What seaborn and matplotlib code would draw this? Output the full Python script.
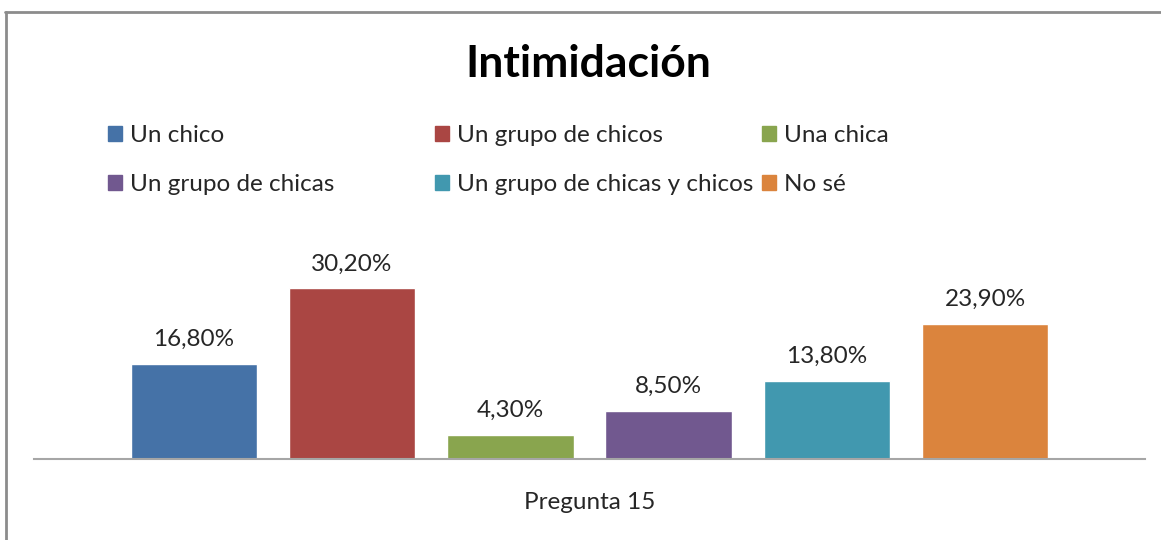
import matplotlib.pyplot as plt
from matplotlib.lines import Line2D
from matplotlib.patches import Patch
import pandas as pd
import seaborn as sns

categories = ['Un chico', 'Un grupo de chicos', 'Una chica',
              'Un grupo de chicas', 'Un grupo de chicas y chicos', 'No sé']
values = [16.8, 30.2, 4.3, 8.5, 13.8, 23.9]
colors = ['#4572A7', '#AA4643', '#89A54E', '#71588F', '#4198AF', '#DB843D']
question = 'Pregunta 15'
title = 'Intimidación'

sns.set_theme(style='white')
plt.rcParams['font.family'] = ['Lato', 'DejaVu Sans']

df = pd.DataFrame({'pregunta': question, 'grupo': categories, 'pct': values})

W, H = 1161, 540
fs = 17.5
fig = plt.figure(figsize=(W / 100, H / 100), dpi=100)
ax = fig.add_axes([34 / W, 81 / H, 1111 / W, 229 / H])

sns.barplot(data=df, x='pregunta', y='pct', hue='grupo', hue_order=categories,
            palette=colors, width=0.8, gap=0.2, saturation=1, legend=False, ax=ax)

for cont in ax.containers:
    ax.bar_label(cont, labels=[f"{b.get_height():.2f}".replace('.', ',') + '%' for b in cont],
                 padding=10, fontsize=fs, color='#262626')

ax.set_ylim(0, 40.5)
ax.set_xlim(-0.468, 0.468)
ax.set_yticks([])
ax.set_xlabel('')
ax.set_ylabel('')
ax.tick_params(axis='x', length=0, pad=24, labelsize=fs, labelcolor='#262626')
for side in ['top', 'left', 'right']:
    ax.spines[side].set_visible(False)
ax.spines['bottom'].set_color('#A6A6A6')
ax.spines['bottom'].set_linewidth(1.5)

# legend in three columns with Excel-like spacing
handles = [Patch(color=c) for c in colors]
col_x = [108, 435, 762]
for i, x in enumerate(col_x):
    idx = [i, i + 3]
    leg = fig.legend([handles[j] for j in idx], [categories[j] for j in idx],
                     loc='upper left', bbox_to_anchor=(x / W, 1 - 125 / H),
                     frameon=False, fontsize=fs, handlelength=0.58, handleheight=0.58,
                     handletextpad=0.33, labelspacing=1.15, borderpad=0, borderaxespad=0)
    for t in leg.get_texts():
        t.set_color('#262626')

fig.text(588 / W, 1 - 64 / H, title, ha='center', va='center',
         fontsize=32, fontweight='bold', color='black')

# chart area border (top and left visible)
fig.add_artist(Line2D([5 / W, 1], [1 - 12 / H, 1 - 12 / H], transform=fig.transFigure,
                      color='#8C8C8C', lw=2))
fig.add_artist(Line2D([6 / W, 6 / W], [0, 1 - 12 / H], transform=fig.transFigure,
                      color='#8C8C8C', lw=2))

fig.savefig('out.png', dpi=100)
